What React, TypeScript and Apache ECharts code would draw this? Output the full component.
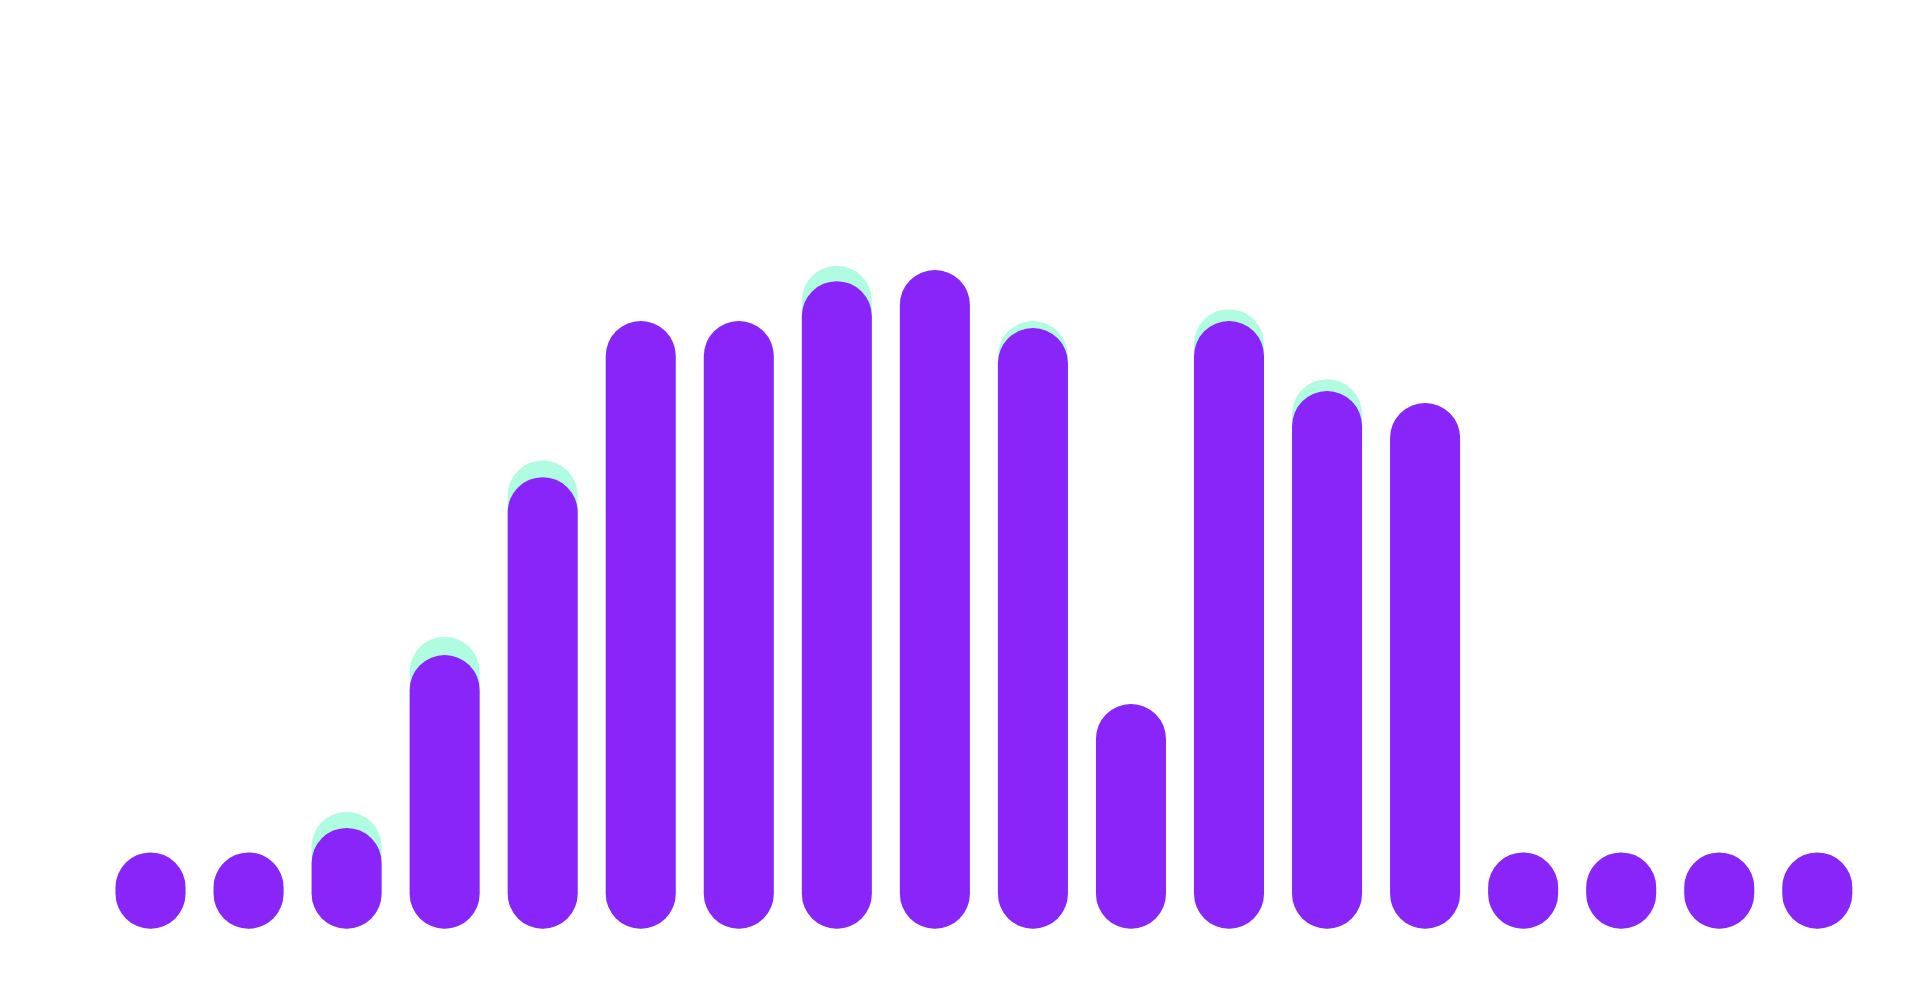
import React, { useEffect, useRef } from "react";
import * as echarts from "echarts";

const categories = ["1", "2", "3", "4", "5", "6", "7", "8", "9", "10", "11", "12", "13", "14", "15", "16", "17", "18"];
const backValues = [10.9, 10.9, 16.7, 41.7, 66.9, 86.8, 86.8, 94.7, 94.1, 86.8, 32.1, 88.5, 78.5, 75.1, 10.9, 10.9, 10.9, 10.9];
const frontValues = [10.9, 10.9, 14.4, 39.1, 64.5, 86.8, 86.8, 92.5, 94.1, 85.8, 32.1, 86.8, 76.8, 75.1, 10.9, 10.9, 10.9, 10.9];

export default function App() {
  const ref = useRef<HTMLDivElement>(null);
  useEffect(() => {
    if (!ref.current) return;
    const chart = echarts.init(ref.current, null, { renderer: "svg" });
    chart.setOption({
      animation: false,
      backgroundColor: "#ffffff",
      grid: { left: 101.5, right: 48.7, top: 228.7, bottom: 65.3 },
      xAxis: {
        type: "category",
        data: categories,
        show: false,
      },
      yAxis: {
        type: "value",
        min: 0,
        max: 100,
        show: false,
        splitLine: { show: false },
      },
      series: [
        {
          type: "bar",
          data: backValues,
          barWidth: 70,
          barGap: "-100%",
          itemStyle: { color: "#B0FCE0", borderRadius: 35 },
          silent: true,
        },
        {
          type: "bar",
          data: frontValues,
          barWidth: 70,
          barGap: "-100%",
          itemStyle: { color: "#8A25F9", borderRadius: 35 },
          silent: true,
        },
      ],
    });
    return () => chart.dispose();
  }, []);
  return (
    <div
      ref={ref}
      style={{ position: "absolute", left: 0, top: 0, width: 1915, height: 994 }}
    />
  );
}
